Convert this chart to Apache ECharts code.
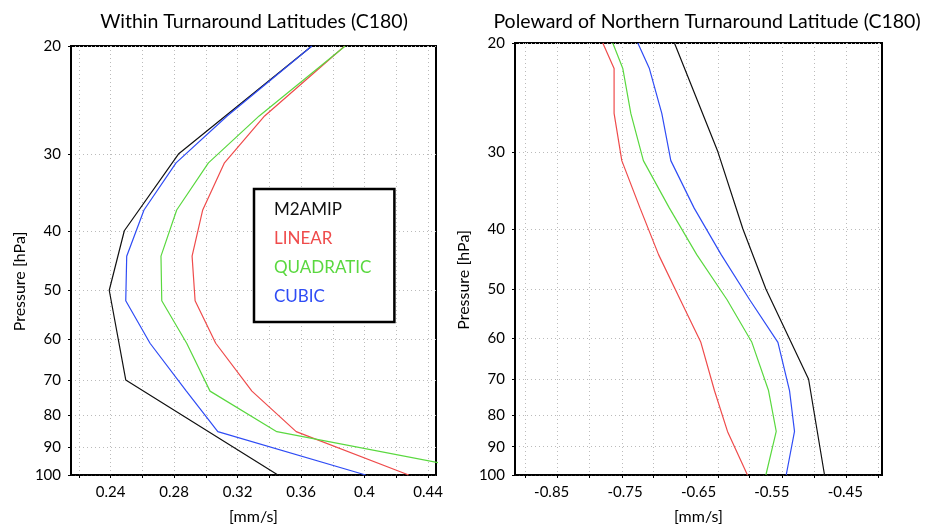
<!DOCTYPE html>
<html>
<head>
<meta charset="utf-8">
<script src="https://cdn.jsdelivr.net/npm/echarts@6/dist/echarts.min.js"></script>
<style>
html,body{margin:0;padding:0;background:#fff;}
#chart{width:930px;height:532px;}
</style>
</head>
<body>
<div id="chart"></div>
<script>
// pressure levels [hPa]
var levelsM2 = [20, 30, 40, 50, 70, 100];
var levelsModelL = [20, 26, 31, 37, 44, 52, 61, 73, 85, 100];
var levelsModelR = [20, 22, 26, 31, 37, 44, 52, 61, 73, 85, 100];
var pressureTicks = [20, 30, 40, 50, 60, 70, 80, 90, 100];

// within turnaround latitudes [mm/s]
var m2Left = [0.3668, 0.2827, 0.2486, 0.2391, 0.2495, 0.3454];
var linearLeft = [0.3875, 0.337, 0.3117, 0.2980, 0.2913, 0.2932, 0.3062, 0.3290, 0.3569, 0.4278];
var quadLeft = [0.3878, 0.3336, 0.3016, 0.2816, 0.2717, 0.2722, 0.2879, 0.3026, 0.3447, 0.487];
var cubicLeft = [0.3668, 0.3134, 0.2812, 0.2610, 0.2501, 0.2495, 0.2648, 0.2877, 0.3075, 0.4007];

// poleward of northern turnaround latitude [mm/s]
var m2Right = [-0.6828, -0.6236, -0.5895, -0.5582, -0.5, -0.4783];
var linearRight = [-0.7804, -0.765, -0.765, -0.7545, -0.7296, -0.7044, -0.675, -0.6468, -0.6283, -0.6105, -0.5833];
var quadRight = [-0.7668, -0.7531, -0.7422, -0.7251, -0.6896, -0.6524, -0.6113, -0.5773, -0.5546, -0.5441, -0.5582];
var cubicRight = [-0.7327, -0.7169, -0.7, -0.6877, -0.6559, -0.6191, -0.5805, -0.5418, -0.526, -0.5192, -0.5305];

// x ticks / labels
var leftTicksX = [0.22, 0.24, 0.26, 0.28, 0.30, 0.32, 0.34, 0.36, 0.38, 0.40, 0.42, 0.44];
var leftLabelsX = [0.24, 0.28, 0.32, 0.36, 0.40, 0.44];
var rightTicksX = [-0.8864, -0.8423, -0.7987, -0.7545, -0.7114, -0.6672, -0.6236, -0.5805, -0.5363, -0.4923, -0.4487, -0.4046];
var rightLabelsX = [-0.85, -0.75, -0.65, -0.55, -0.45];

var names = ['M2AMIP', 'LINEAR', 'QUADRATIC', 'CUBIC'];
var colors = ['#111111', '#ef4b4b', '#5ad83f', '#2f4cf5'];
var FONT = 'Lato';

function pairs(xs, ps) {
  var out = [];
  for (var i = 0; i < xs.length; i++) out.push([xs[i], ps[i]]);
  return out;
}

function xAxisCfg(idx, min, max, ticks, labels) {
  return {
    gridIndex: idx, type: 'value', min: min, max: max,
    name: '[mm/s]', nameLocation: 'middle', nameGap: 34,
    nameTextStyle: {fontFamily: FONT, fontSize: 16, color: '#000'},
    axisLine: {show: true, onZero: false, lineStyle: {color: '#000', width: 1.5}},
    axisTick: {show: true, length: 3, customValues: ticks, lineStyle: {color: '#000'}},
    axisLabel: {customValues: labels, fontFamily: FONT, fontSize: 15, color: '#000', margin: 10,
      formatter: function (v) { return String(v); }},
    splitLine: {show: true, lineStyle: {type: [1, 3], color: '#bbbbbb'}}
  };
}

function yAxisCfg(idx) {
  return {
    gridIndex: idx, type: 'log', logBase: 10, min: 20, max: 100, inverse: true,
    name: 'Pressure [hPa]', nameLocation: 'middle', nameGap: 43,
    nameTextStyle: {fontFamily: FONT, fontSize: 16, color: '#000', padding: [0, 42, 0, 0]},
    axisLine: {show: true, lineStyle: {color: '#000', width: 2}},
    axisTick: {show: true, length: 3, customValues: pressureTicks, lineStyle: {color: '#000'}},
    axisLabel: {customValues: pressureTicks, fontFamily: FONT, fontSize: 15, color: '#000', margin: 10},
    splitLine: {show: true, lineStyle: {type: [1, 3], color: '#bbbbbb'}}
  };
}

function lineSeries(i, idx, xs, ps) {
  return {
    name: names[i], type: 'line', xAxisIndex: idx, yAxisIndex: idx,
    data: pairs(xs, ps), showSymbol: false, symbol: 'none',
    lineStyle: {color: colors[i], width: 1.2}, itemStyle: {color: colors[i]},
    clip: true
  };
}

var chart = echarts.init(document.getElementById('chart'));
chart.setOption({
  animation: false,
  backgroundColor: '#fff',
  title: [
    {text: 'Within Turnaround Latitudes (C180)', left: 249, top: 7, textAlign: 'center',
      textStyle: {fontFamily: FONT, fontSize: 19.5, fontWeight: 'normal', color: '#000'}},
    {text: 'Poleward of Northern Turnaround Latitude (C180)', left: 702, top: 7, textAlign: 'center',
      textStyle: {fontFamily: FONT, fontSize: 19.5, fontWeight: 'normal', color: '#000'}}
  ],
  grid: [
    {left: 71, top: 46, width: 365, height: 429, show: true, borderColor: '#000', borderWidth: 2},
    {left: 515, top: 43, width: 367, height: 432, show: true, borderColor: '#000', borderWidth: 2}
  ],
  legend: {
    orient: 'vertical', left: 254, top: 189,
    padding: [11, 23, 15, 15], itemGap: 9, itemWidth: 0, itemHeight: 14, icon: 'none',
    backgroundColor: '#fff', borderColor: '#000', borderWidth: 2.5,
    textStyle: {fontFamily: FONT, fontSize: 17, lineHeight: 20},
    data: names.map(function (n, i) { return {name: n, textStyle: {color: colors[i]}}; })
  },
  xAxis: [
    xAxisCfg(0, 0.215, 0.445, leftTicksX, leftLabelsX),
    xAxisCfg(1, -0.9, -0.4, rightTicksX, rightLabelsX)
  ],
  yAxis: [yAxisCfg(0), yAxisCfg(1)],
  series: [
    lineSeries(0, 0, m2Left, levelsM2),
    lineSeries(1, 0, linearLeft, levelsModelL),
    lineSeries(2, 0, quadLeft, levelsModelL),
    lineSeries(3, 0, cubicLeft, levelsModelL),
    lineSeries(0, 1, m2Right, levelsM2),
    lineSeries(1, 1, linearRight, levelsModelR),
    lineSeries(2, 1, quadRight, levelsModelR),
    lineSeries(3, 1, cubicRight, levelsModelR)
  ]
});
</script>
</body>
</html>
